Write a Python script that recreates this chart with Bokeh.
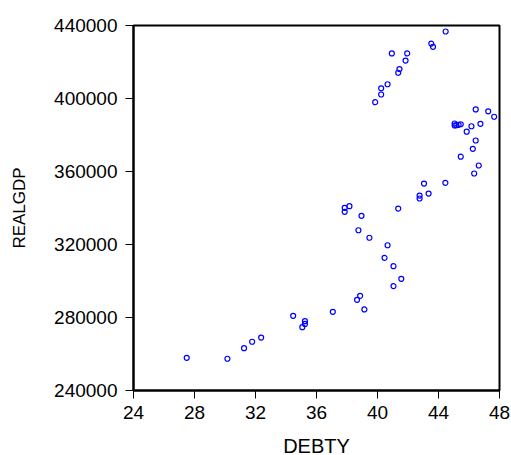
from bokeh.plotting import figure
from bokeh.models import FixedTicker, Range1d, NumeralTickFormatter
from bokeh.embed import file_html
from bokeh.resources import INLINE

debty = [44.47, 43.53, 43.64, 40.94, 41.95, 41.84, 41.44, 41.36, 40.66, 40.24,
         40.24, 39.85, 46.44, 47.26, 47.65, 45.06, 45.06, 45.32, 45.46, 45.17,
         46.16, 46.75, 45.85, 46.44, 46.25, 45.46, 46.64, 46.34, 43.05, 44.45,
         43.35, 42.76, 42.76, 37.85, 37.85, 38.16, 41.36, 38.95, 38.75, 39.47,
         40.66, 40.46, 41.05, 41.56, 41.05, 38.86, 38.66, 39.14, 37.07, 27.49,
         30.16, 31.25, 31.78, 32.37, 34.47, 35.07, 35.24, 35.24]
realgdp = [436700, 430100, 428300, 424700, 424700, 420800, 416100, 414100, 407800, 405600,
           402200, 398000, 394000, 393000, 390000, 386300, 385200, 385600, 385900, 385400,
           384800, 386100, 381800, 377000, 372400, 368100, 363300, 358900, 353400, 353800,
           347900, 346800, 345200, 340100, 337900, 341000, 339700, 335700, 327800, 323700,
           319600, 312700, 308100, 301200, 297200, 291900, 289700, 284400, 283100, 257900,
           257400, 263200, 266700, 269000, 280900, 274700, 278000, 276500]

x_ticks = [24, 28, 32, 36, 40, 44, 48]
y_ticks = [240000, 280000, 320000, 360000, 400000, 440000]

p = figure(output_backend="svg", toolbar_location=None,
           frame_width=366, frame_height=365,
           min_border_left=133, min_border_top=25, min_border_right=12,
           min_border_bottom=64,
           x_range=Range1d(24, 48), y_range=Range1d(240000, 440000))
p.background_fill_color = "white"
p.border_fill_color = "white"
p.outline_line_color = "black"
p.outline_line_width = 2
p.xgrid.visible = False
p.ygrid.visible = False

p.scatter(debty, realgdp, marker="circle", size=5, fill_color=None,
          line_color="#0000FF", line_width=1.2)

font = "Liberation Sans"
for ax in (p.xaxis[0], p.yaxis[0]):
    ax.axis_line_color = "black"
    ax.axis_line_width = 2
    ax.major_tick_line_color = "black"
    ax.major_tick_line_width = 1
    ax.major_tick_out = 8
    ax.major_tick_in = 0
    ax.minor_tick_line_color = None
    ax.major_label_text_font = font
    ax.major_label_text_font_size = "19px"
    ax.major_label_text_color = "black"
    ax.axis_label_text_font = font
    ax.axis_label_text_font_style = "normal"
    ax.axis_label_text_color = "black"

p.xaxis.ticker = FixedTicker(ticks=x_ticks)
p.yaxis.ticker = FixedTicker(ticks=y_ticks)
p.yaxis.formatter = NumeralTickFormatter(format="0")
p.xaxis.axis_label = "DEBTY"
p.yaxis.axis_label = "REALGDP"
p.xaxis.axis_label_text_font_size = "20px"
p.yaxis.axis_label_text_font_size = "17px"
p.xaxis.major_label_standoff = 7
p.yaxis.major_label_standoff = 8
p.xaxis.axis_label_standoff = 13
p.yaxis.axis_label_standoff = 22

open("out.html", "w").write(file_html(p, INLINE))
